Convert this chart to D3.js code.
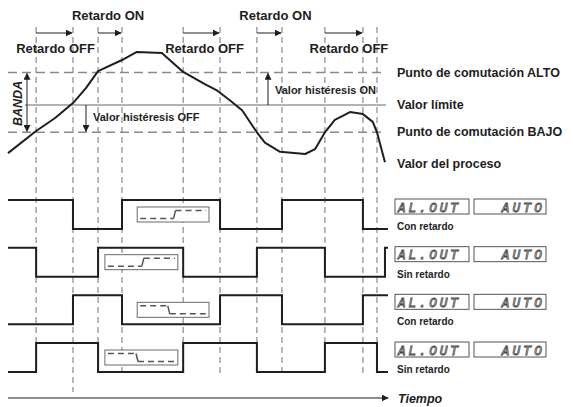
<!DOCTYPE html>
<html>
<head>
<meta charset="utf-8">
<script src="https://cdn.jsdelivr.net/npm/d3@7"></script>
<style>
  html, body { margin: 0; padding: 0; background: #fff; }
  svg { display: block; font-family: "Liberation Sans", Arial, sans-serif; }
</style>
</head>
<body>
<svg id="chart" width="573" height="407"></svg>
<script>
// Time axis in arbitrary units (0..100)
const eventTimes = [7.4, 17.1, 23.7, 30, 46.1, 55.8, 65.5, 72.1, 83.4, 93.4, 97.1];
const tEnd = 100;

// Process value curve
const processTimes = [0, 7.4, 12.4, 17.1, 20.5, 23.7, 30, 33.9, 40.5, 46.1, 51.8, 55.1, 58.2, 61.6,
  65.5, 67.6, 71.6, 78.2, 80.8, 83.4, 86, 90, 93.4, 96, 97.1, 99.2];
const processValues = [13, 30, 40, 51.5, 63, 76, 84.6, 90.8, 90, 75.4, 66, 61, 54, 46,
  29, 21, 14, 12.3, 16, 29, 38.5, 44.6, 43, 37, 29, 6];

// Switching levels
const levelNames = ['Punto de comutación ALTO', 'Valor límite', 'Punto de comutación BAJO'];
const levelValues = [75, 50, 29];
const processLabel = 'Valor del proceso';
const processLabelValue = 5;

// Delay arrows on top
const delayFrom = [7.4, 23.7, 46.1, 65.5, 83.4];
const delayTo = [17.1, 30, 55.8, 72.1, 93.4];
const delayLabels = ['Retardo OFF', 'Retardo ON', 'Retardo OFF', 'Retardo ON', 'Retardo OFF'];

// Output waveforms
const waveStart = [1, 1, 0, 0];
const waveEdges = [
  [17.1, 30, 55.8, 72.1, 93.4],
  [7.4, 23.7, 46.1, 65.5, 83.4, 99.2],
  [17.1, 30, 55.8, 72.1, 93.4],
  [7.4, 23.7, 46.1, 65.5, 83.4, 97.1]
];
const waveCaptions = ['Con retardo', 'Sin retardo', 'Con retardo', 'Sin retardo'];
const waveBoxFrom = [34, 25.5, 34, 25.5];
const waveBoxTo = [52.9, 44.7, 52.9, 44.7];
const waveBoxRising = [true, true, false, false];
const displayLeft = 'AL.OUT';
const displayRight = 'AUTO';

const svg = d3.select('#chart');
const ink = '#1e1e1e';
const grid = '#8a8a8a';

const x = d3.scaleLinear().domain([0, 100]).range([8, 388]);
const y = d3.scaleLinear().domain([0, 100]).range([170, 40]);
const track = d3.scaleLinear().domain([0, 3]).range([200, 343]);
const waveH = 29;

// Arrow markers
const defs = svg.append('defs');
function marker(id, color) {
  defs.append('marker')
    .attr('id', id)
    .attr('viewBox', '0 0 10 10')
    .attr('refX', 9).attr('refY', 5)
    .attr('markerWidth', 7).attr('markerHeight', 7)
    .attr('markerUnits', 'userSpaceOnUse')
    .attr('orient', 'auto-start-reverse')
    .append('path')
    .attr('d', 'M0,0L10,5L0,10Z')
    .attr('fill', color);
}
marker('arr', ink);

// Vertical dashed event lines
svg.append('g')
  .selectAll('line')
  .data(eventTimes)
  .join('line')
  .attr('x1', (d) => x(d)).attr('x2', (d) => x(d))
  .attr('y1', 27)
  .attr('y2', (d, i) => i === 1 ? 392 : 375)
  .attr('stroke', grid)
  .attr('stroke-width', 1.2)
  .attr('stroke-dasharray', '6,4');

// Delay arrows
const delays = delayFrom.map((f, i) => ({ from: f, to: delayTo[i], label: delayLabels[i] }));
svg.append('g')
  .selectAll('line')
  .data(delays)
  .join('line')
  .attr('x1', (d) => x(d.from)).attr('x2', (d) => x(d.to) - 1)
  .attr('y1', 33).attr('y2', 33)
  .attr('stroke', ink)
  .attr('stroke-width', 1)
  .attr('marker-end', 'url(#arr)');

// label nudges so text sits as in the original drawing
const nudge = [1, -2, 3, 6, 5];
svg.append('g')
  .selectAll('text')
  .data(delays)
  .join('text')
  .attr('x', (d, i) => (x(d.from) + x(d.to)) / 2 + nudge[i])
  .attr('y', (d) => d.label === 'Retardo ON' ? 20 : 53)
  .attr('text-anchor', 'middle')
  .attr('font-size', 13)
  .attr('font-weight', 'bold')
  .attr('fill', ink)
  .text((d) => d.label);

// Switching levels
svg.append('g')
  .selectAll('line')
  .data(levelValues)
  .join('line')
  .attr('x1', (d, i) => i === 1 ? 25 : 8)
  .attr('x2', 386)
  .attr('y1', (d) => y(d)).attr('y2', (d) => y(d))
  .attr('stroke', (d, i) => i === 1 ? '#9a9a9a' : grid)
  .attr('stroke-width', 1.6)
  .attr('stroke-dasharray', (d, i) => i === 1 ? null : '9,5');

svg.append('g')
  .selectAll('text')
  .data(levelNames.concat([processLabel]))
  .join('text')
  .attr('x', 397)
  .attr('y', (d, i) => y(i < 3 ? levelValues[i] : processLabelValue) + 4)
  .attr('font-size', 12.5)
  .attr('font-weight', 'bold')
  .attr('fill', ink)
  .text((d) => d);

// Band arrow
svg.append('line')
  .attr('x1', 27).attr('x2', 27)
  .attr('y1', y(levelValues[0]) + 1).attr('y2', y(levelValues[2]) - 1)
  .attr('stroke', ink).attr('stroke-width', 1)
  .attr('marker-start', 'url(#arr)')
  .attr('marker-end', 'url(#arr)');
svg.append('text')
  .attr('transform', `translate(22,${(y(levelValues[0]) + y(levelValues[2])) / 2 + 1}) rotate(-90)`)
  .attr('text-anchor', 'middle')
  .attr('font-size', 12.5)
  .attr('font-weight', 'bold')
  .attr('font-style', 'italic')
  .attr('fill', ink)
  .text('BANDA');

// Hysteresis arrows
svg.append('line')
  .attr('x1', 86).attr('x2', 86)
  .attr('y1', y(levelValues[1])).attr('y2', y(levelValues[2]) - 1)
  .attr('stroke', ink).attr('stroke-width', 1)
  .attr('marker-end', 'url(#arr)');
svg.append('text')
  .attr('x', 93).attr('y', 121)
  .attr('font-size', 11).attr('font-weight', 'bold').attr('fill', ink)
  .text('Valor histéresis OFF');
svg.append('line')
  .attr('x1', 268).attr('x2', 268)
  .attr('y1', y(levelValues[1])).attr('y2', y(levelValues[0]) + 1)
  .attr('stroke', ink).attr('stroke-width', 1)
  .attr('marker-end', 'url(#arr)');
svg.append('text')
  .attr('x', 275).attr('y', 94)
  .attr('font-size', 11).attr('font-weight', 'bold').attr('fill', ink)
  .text('Valor histéresis ON');

// Process curve
const processLine = d3.line()
  .x((d, i) => x(processTimes[i]))
  .y((d) => y(d));
svg.append('path')
  .datum(processValues)
  .attr('fill', 'none')
  .attr('stroke', ink)
  .attr('stroke-width', 2)
  .attr('stroke-linejoin', 'round')
  .attr('d', processLine);

// Waveforms
waveStart.forEach((s, w) => {
  const pts = [[0, s]];
  let state = s;
  waveEdges[w].forEach((t) => {
    state = 1 - state;
    pts.push([t, state]);
  });
  pts.push([tEnd, state]);
  const top = track(w);
  const line = d3.line()
    .x((d) => x(d[0]))
    .y((d) => d[1] ? top : top + waveH)
    .curve(d3.curveStepAfter);
  svg.append('path')
    .datum(pts)
    .attr('fill', 'none')
    .attr('stroke', ink)
    .attr('stroke-width', 2)
    .attr('d', line);

  // LCD box inside the waveform
  const bx0 = x(waveBoxFrom[w]);
  const bx1 = x(waveBoxTo[w]);
  const by = top + 7;
  const bh = 15;
  svg.append('rect')
    .attr('x', bx0).attr('y', by)
    .attr('width', bx1 - bx0).attr('height', bh)
    .attr('fill', '#fff')
    .attr('stroke', '#6a6a6a')
    .attr('stroke-width', 1);
  const hiY = by + 3.5;
  const loY = by + bh - 3.5;
  const frac = waveBoxRising[w] ? 0.52 : 0.44;
  const mx = bx0 + (bx1 - bx0) * frac;
  const first = waveBoxRising[w] ? loY : hiY;
  const second = waveBoxRising[w] ? hiY : loY;
  svg.append('path')
    .attr('d', `M${bx0 + 3},${first}H${mx - 1}`)
    .attr('stroke', '#555').attr('stroke-width', 1.5)
    .attr('stroke-dasharray', '6,4').attr('fill', 'none');
  svg.append('path')
    .attr('d', `M${mx - 1},${first}L${mx + 1},${second}`)
    .attr('stroke', '#555').attr('stroke-width', 1.5).attr('fill', 'none');
  svg.append('path')
    .attr('d', `M${mx + 1},${second}H${bx1 - 3}`)
    .attr('stroke', '#555').attr('stroke-width', 1.5)
    .attr('stroke-dasharray', '6,4').attr('fill', 'none');

  // Right-hand display
  const dy = top - 1;
  svg.append('rect')
    .attr('x', 395).attr('y', dy).attr('width', 74).attr('height', 15)
    .attr('fill', '#fff').attr('stroke', '#555').attr('stroke-width', 1);
  svg.append('rect')
    .attr('x', 474).attr('y', dy).attr('width', 72).attr('height', 15)
    .attr('fill', '#fff').attr('stroke', '#555').attr('stroke-width', 1);
  svg.append('text')
    .attr('x', 398).attr('y', dy + 12.5)
    .attr('font-family', '"DejaVu Sans Mono", monospace')
    .attr('font-style', 'italic')
    .attr('font-size', 13)
    .attr('letter-spacing', 2.6)
    .attr('fill', '#fff').attr('stroke', '#444').attr('stroke-width', 0.8)
    .text(displayLeft);
  svg.append('text')
    .attr('x', 545).attr('y', dy + 12.5)
    .attr('text-anchor', 'end')
    .attr('font-family', '"DejaVu Sans Mono", monospace')
    .attr('font-style', 'italic')
    .attr('font-size', 13)
    .attr('letter-spacing', 3)
    .attr('fill', '#fff').attr('stroke', '#444').attr('stroke-width', 0.8)
    .text(displayRight);
  svg.append('text')
    .attr('x', 397).attr('y', top + 30)
    .attr('font-size', 10).attr('font-weight', 'bold').attr('fill', ink)
    .text(waveCaptions[w]);
});

// Time axis
svg.append('line')
  .attr('x1', x(0)).attr('x2', x(tEnd))
  .attr('y1', 398).attr('y2', 398)
  .attr('stroke', ink).attr('stroke-width', 1.2)
  .attr('marker-end', 'url(#arr)');
svg.append('text')
  .attr('x', 398).attr('y', 403)
  .attr('font-size', 12.5)
  .attr('font-weight', 'bold')
  .attr('font-style', 'italic')
  .attr('fill', ink)
  .text('Tiempo');
</script>
</body>
</html>
